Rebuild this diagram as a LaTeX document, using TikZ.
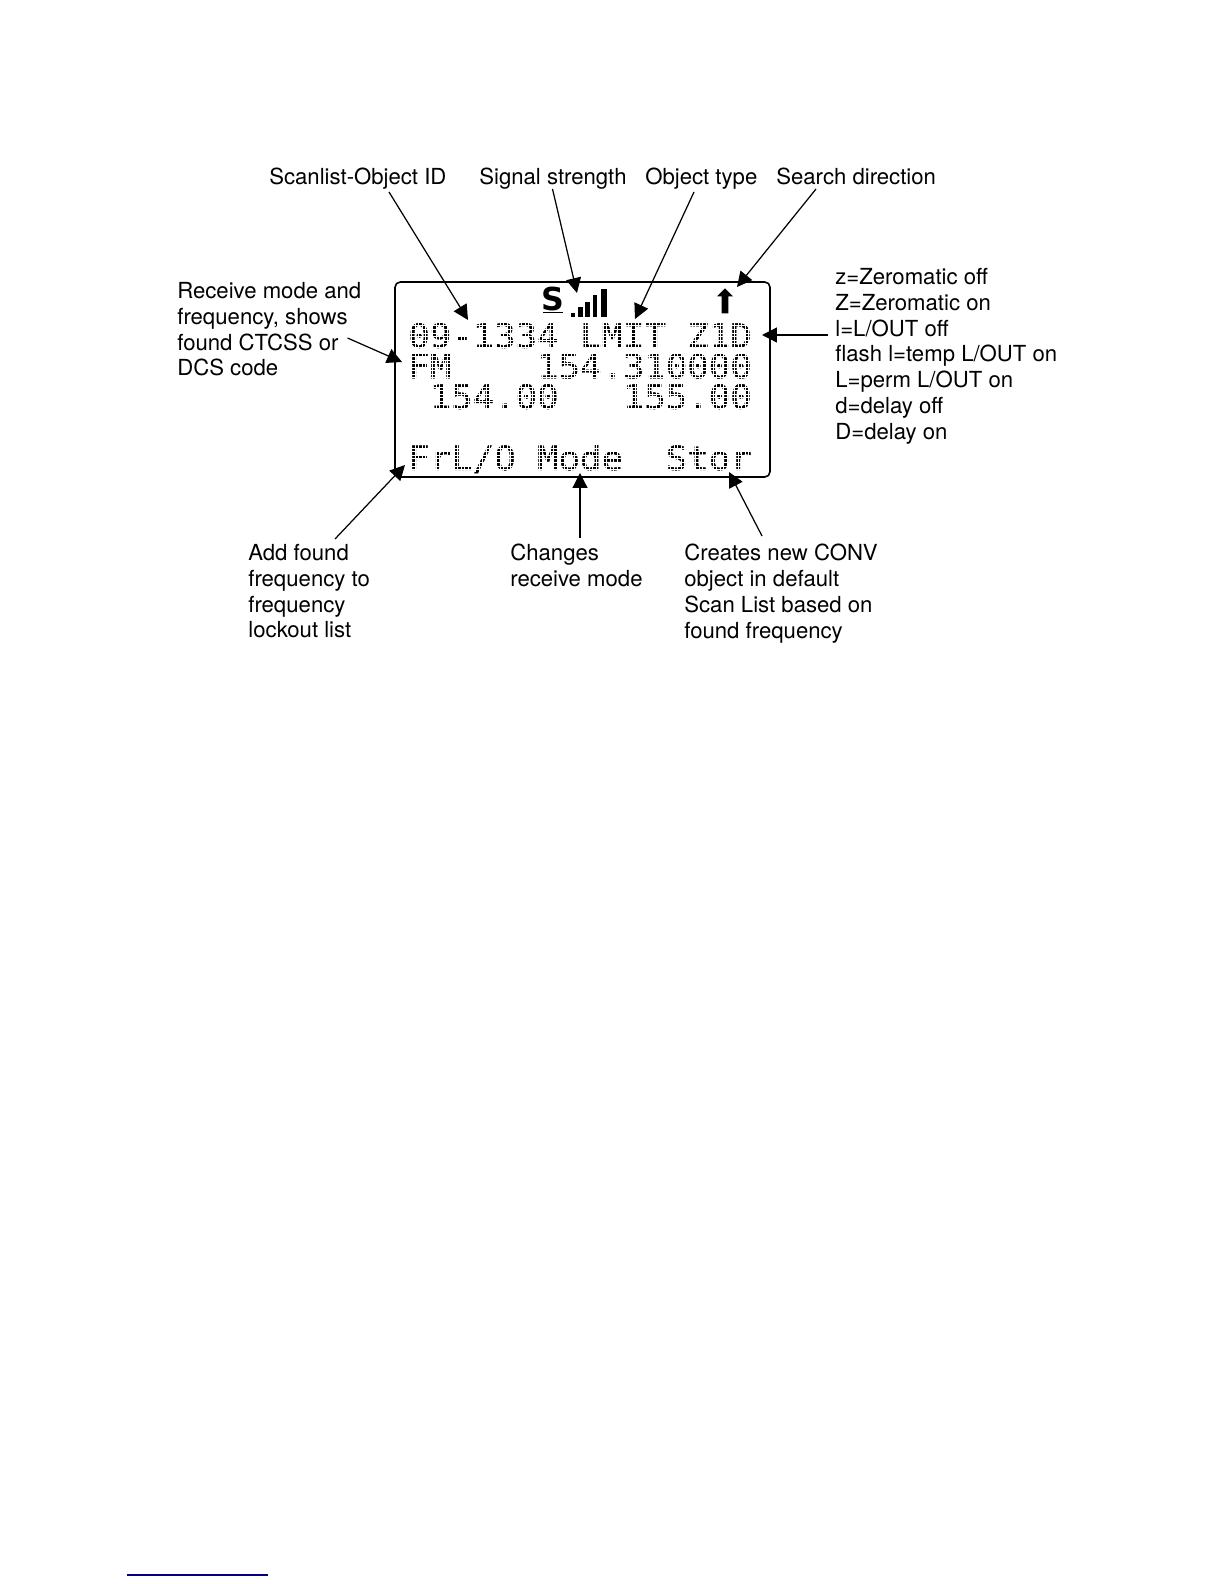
\documentclass[tikz,border=0pt]{standalone}
\usepackage{fontspec}
\setmainfont{TeX Gyre Heros}
\newfontfamily\lcdfont[FakeStretch=1.068,FakeBold=1.2]{DejaVu Sans Mono}
\newfontfamily\iconfont{DejaVu Sans}
\usetikzlibrary{arrows.meta}
\tikzset{
  lbl/.style={anchor=north west,inner sep=0pt,align=left,font=\fontsize{12.6pt}{14.68pt}\selectfont},
  toplbl/.style={anchor=base west,inner sep=0pt,font=\fontsize{12.6pt}{14.68pt}\selectfont},
  lcd/.style={anchor=north west,inner sep=0pt,text height=13.85pt,text depth=0pt,font=\fontsize{19pt}{19pt}\lcdfont},
  arr/.style={-{Stealth[inset=0pt,length=8.5pt,width=8.5pt]},line width=0.7pt},
}
\begin{document}
\begin{tikzpicture}[x=0.02cm,y=-0.02cm]
\useasboundingbox (0,0) rectangle (1224,1584);

% display text
\node[lcd] (rowa) at (408,323) {09-1334~LMIT~Z1D};
\node[lcd] (rowb) at (408,353.6) {FM~~~~154.310000};
\node[lcd] (rowc) at (408,384) {~154.00~~~155.00};
\node[lcd] (rowd) at (408,445.3) {FrL/O~Mode~~Stor};

% dot matrix
\foreach \i in {0,...,98}
  \draw[white,line width=0.45pt] ({407.9+3.55*\i},320)--({407.9+3.55*\i},472);
\foreach \rowtop in {323.3,353.9,384.5,445.6}
  \foreach \k in {0,...,7}
    \draw[white,line width=0.45pt] (406,{\rowtop+3.55*\k-1})--(756,{\rowtop+3.55*\k-1});

% display frame
\draw[line width=0.9pt,rounded corners=3pt] (395,282) rectangle (770,477);

% status line
\node[inner sep=0pt,font=\fontsize{18pt}{18pt}\iconfont\bfseries] (sicon) at (553,299) {S};
\draw[line width=1.1pt] (543,312.5)--(563,312.5);
\fill (570.7,312.7) rectangle (575,317.3);
\fill (578.3,306.7) rectangle (582.7,317.3);
\fill (585,301.7) rectangle (590,317.3);
\fill (593.3,295) rectangle (597.3,317.3);
\fill (600.7,289.3) rectangle (606.7,317.3);
\fill (721.7,313.3)--(721.7,296.5)--(717,296.5)--(725,288.3)--(733,296.5)--(728.3,296.5)--(728.3,313.3)--cycle;

% labels
\node[toplbl] (lblscan) at (269,185) {Scanlist-Object ID};
\node[toplbl] (lblsig) at (479,185) {Signal strength};
\node[toplbl] (lbltype) at (645,185) {Object type};
\node[toplbl] (lbldir) at (776,185) {Search direction};
\node[lbl] (lblmode) at (177,282) {Receive mode and\\frequency, shows\\found CTCSS or\\DCS code};
\node[lbl] (lblflags) at (835,268) {z=Zeromatic off\\Z=Zeromatic on\\l=L/OUT off\\flash l=temp L/OUT on\\L=perm L/OUT on\\d=delay off\\D=delay on};
\node[lbl] (lbladd) at (248,544) {Add found\\frequency to\\frequency\\lockout list};
\node[lbl] (lblchg) at (510,544) {Changes\\receive mode};
\node[lbl] (lblnew) at (684,544) {Creates new CONV\\object in default\\Scan List based on\\found frequency};

% arrow tips
\coordinate (tipscan) at (468,320);
\coordinate (tipsig) at (577,293);
\coordinate (tiptype) at (635,319);
\coordinate (tipdir) at (737,287);
\coordinate (tipflags) at (762,335);
\coordinate (tipmode) at (402,362);
\coordinate (tipadd) at (405,465);
\coordinate (tipchg) at (580,473);
\coordinate (tipnew) at (729,472);

\draw[arr] ([shift={(120,7)}]lblscan.base west)--(tipscan);
\draw[arr] ([shift={(73.5,4)}]lblsig.base west)--(tipsig);
\draw[arr] ([shift={(49,7)}]lbltype.base west)--(tiptype);
\draw[arr] ([shift={(40,4)}]lbldir.base west)--(tipdir);
\draw[arr] ([shift={(-7,67)}]lblflags.north west)--(tipflags);
\draw[arr] ([shift={(170.5,56)}]lblmode.north west)--(tipmode);
\draw[arr] ([shift={(87,-5)}]lbladd.north west)--(tipadd);
\draw[arr] ([shift={(70,-6)}]lblchg.north west)--(tipchg);
\draw[arr] ([shift={(78,-8)}]lblnew.north west)--(tipnew);

% rule at the foot of the page
\draw[blue!50!black,line width=0.9pt] (127,1575)--(268,1575);
\end{tikzpicture}
\end{document}
